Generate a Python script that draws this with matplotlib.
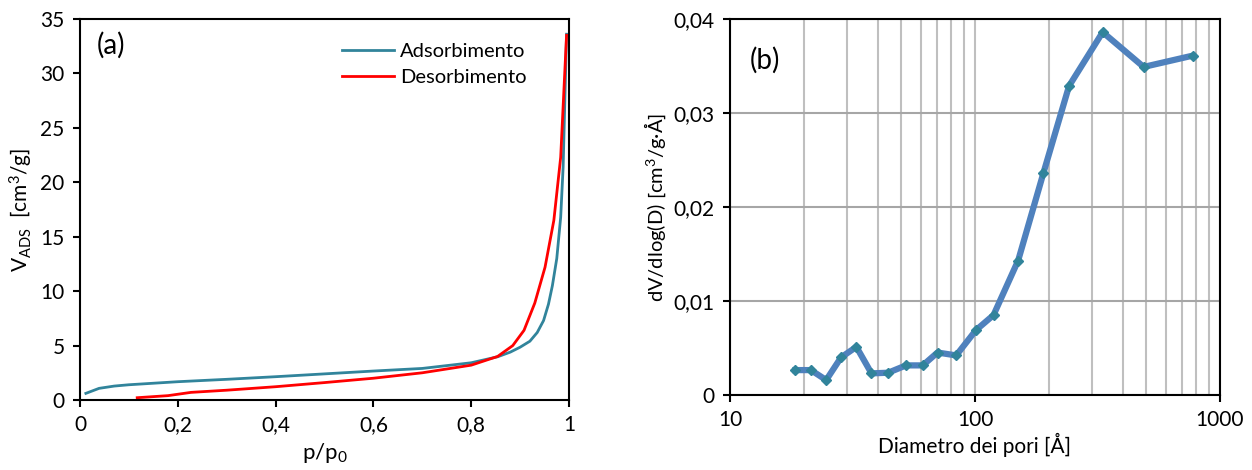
import matplotlib.pyplot as plt
from matplotlib.ticker import FuncFormatter, FixedLocator

plt.rcParams['font.family'] = ['Lato', 'DejaVu Sans']
plt.rcParams['mathtext.default'] = 'regular'

# (a) isotherm
p_ads = [0.012, 0.039, 0.07, 0.1, 0.2, 0.3, 0.4, 0.5, 0.6, 0.7, 0.8, 0.854, 0.88,
         0.90, 0.92, 0.935, 0.948, 0.958, 0.966, 0.975, 0.983, 0.988, 0.995]
v_ads = [0.61, 1.07, 1.28, 1.4, 1.68, 1.9, 2.14, 2.4, 2.66, 2.9, 3.42, 3.97, 4.4,
         4.85, 5.4, 6.2, 7.3, 8.8, 10.5, 13.0, 16.8, 21.4, 33.6]
p_des = [0.117, 0.18, 0.227, 0.3, 0.4, 0.5, 0.6, 0.7, 0.8, 0.854, 0.885, 0.908, 0.93,
         0.951, 0.969, 0.983, 0.995]
v_des = [0.21, 0.4, 0.7, 0.9, 1.22, 1.6, 2.0, 2.5, 3.2, 4.0, 5.0, 6.4, 8.9,
         12.2, 16.5, 22.3, 33.5]

# (b) pore size distribution
diam = [18.5, 21.4, 24.7, 28.4, 32.8, 37.8, 44.2, 52.3, 61.2, 70.3, 83.8, 100.9,
        119, 150, 190, 242, 332, 488, 773]
dvdlogd = [0.00265, 0.00265, 0.00159, 0.0040, 0.00512, 0.0023, 0.00237, 0.00315,
           0.00315, 0.00452, 0.00421, 0.0069, 0.0085, 0.0143, 0.02357, 0.03287,
           0.0386, 0.0349, 0.0361]

fig = plt.figure(figsize=(12.52, 4.7), dpi=100)
ax1 = fig.add_axes([80/1252, 70/470, 489/1252, 381/470])
ax2 = fig.add_axes([730/1252, 75/470, 490/1252, 376/470])

comma = FuncFormatter(lambda v, pos: ('%g' % v).replace('.', ','))

ax1.plot(p_ads, v_ads, color='#31849B', lw=2, label='Adsorbimento')
ax1.plot(p_des, v_des, color='#FF0000', lw=2, label='Desorbimento')
ax1.set_xlim(0, 1)
ax1.set_ylim(0, 35)
ax1.set_xticks([0, 0.2, 0.4, 0.6, 0.8, 1])
ax1.set_yticks(range(0, 36, 5))
ax1.xaxis.set_major_formatter(comma)
ax1.set_xlabel('p/p$_0$', fontsize=16)
ax1.set_ylabel('V$_{ADS}$  [cm$^3$/g]', fontsize=15)
ax1.text(0.035, 0.93, '(a)', transform=ax1.transAxes, fontsize=20, va='center')
ax1.legend(loc='upper right', bbox_to_anchor=(0.95, 0.985), frameon=False,
           fontsize=14.5, handlelength=2.6, handletextpad=0.3, labelspacing=0.45)

ax2.set_xscale('log')
ax2.plot(diam, dvdlogd, color='#4F81BD', lw=4.5, marker='D', markersize=5,
         markerfacecolor='#31849B', markeredgecolor='#31849B', zorder=3)
ax2.set_xlim(10, 1000)
ax2.set_ylim(0, 0.04)
ax2.set_yticks([0, 0.01, 0.02, 0.03, 0.04])
ax2.yaxis.set_major_formatter(comma)
ax2.xaxis.set_major_locator(FixedLocator([10, 100, 1000]))
ax2.xaxis.set_major_formatter(FuncFormatter(lambda v, pos: '%d' % v))
ax2.xaxis.set_minor_locator(FixedLocator([20, 30, 40, 50, 60, 70, 80, 90,
                                          200, 300, 400, 500, 600, 700, 800, 900]))
ax2.tick_params(axis='x', which='minor', length=0)
ax2.grid(True, which='both', axis='x', color='#BFBFBF', lw=1.5)
ax2.grid(True, which='major', axis='y', color='#A6A6A6', lw=1.5)
ax2.set_axisbelow(True)
ax2.set_xlabel('Diametro dei pori [Å]', fontsize=15, labelpad=2)
ax2.set_ylabel('dV/dlog(D) [cm$^3$/g·Å]', fontsize=14.5)
ax2.text(0.04, 0.89, '(b)', transform=ax2.transAxes, fontsize=20, va='center')

for ax in (ax1, ax2):
    for s in ax.spines.values():
        s.set_linewidth(1.5)
    ax.tick_params(which='major', direction='out', length=5, width=1.5,
                   labelsize=15, pad=6)

plt.savefig('out.png', dpi=100)
